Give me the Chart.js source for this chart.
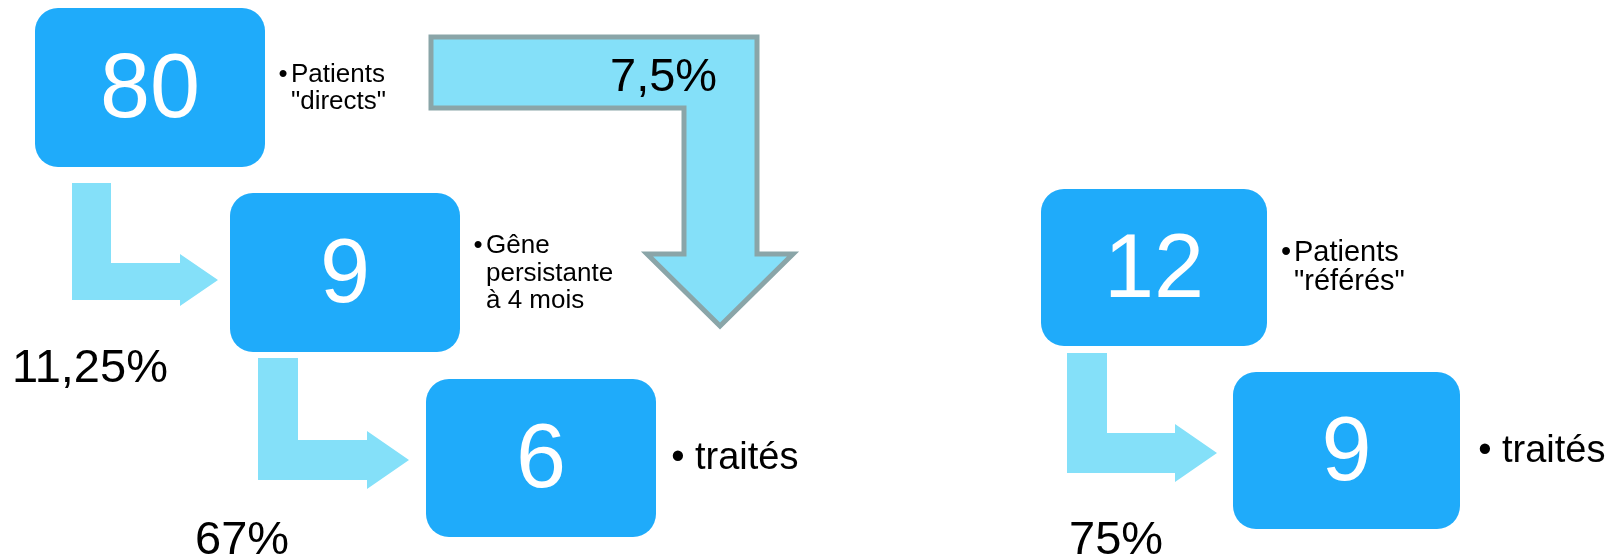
<!DOCTYPE html>
<html>
<head>
<meta charset="utf-8">
<script src="https://cdn.jsdelivr.net/npm/chart.js@4"></script>
<style>
    body { margin: 0; background: #fff; }
    .wrap { width: 1621px; height: 559px; position: relative; }
</style>
</head>
<body>
<div class="wrap"><canvas id="myChart"></canvas></div>
<script>
// values shown in the diagram
const boxValues = ['80', '9', '6', '12', '9'];
const boxNotes = [
    ['Patients', '"directs"'],
    ['Gêne', 'persistante', 'à 4 mois'],
    ['traités'],
    ['Patients', '"référés"'],
    ['traités']
];
const rateLabels = ['7,5%', '11,25%', '67%', '75%'];

// layout, in slide units (x: 0..1621, y: 0..559 top-down)
const boxRects = [[35, 8, 265, 167], [230, 193, 460, 352], [426, 379, 656, 537], [1041, 189, 1267, 346], [1233, 372, 1460, 529]];
const notePos = [[291, 82, 26, 27, 8], [486, 253, 26, 27.5, 8], [695, 469, 38, 0, 17], [1294, 261, 29, 29, 8], [1502, 462, 38, 0, 17]];
const ratePos = [[610, 91], [12, 382], [195, 554], [1069, 554]];
const smallArrows = [
    // stem left, stem right, stem top, bar top, bar bottom, head base x, head top, head bottom, tip x
    [72, 111, 183, 263, 300, 180, 254, 306, 218],
    [258, 298, 358, 440, 480, 367, 431, 489, 409],
    [1067, 1107, 353, 433, 473, 1175, 424, 482, 1217]
];
const bigArrow = [[431, 37], [757, 37], [757, 254], [793, 254], [720, 326], [647, 254], [684, 254], [684, 108], [431, 108]];

const FONT = '"Liberation Sans", Arial, sans-serif';
const BOX_COLOR = '#1fabfa';
const ARROW_COLOR = '#84e0f9';

const centers = boxRects.map(r => ({ x: (r[0] + r[2]) / 2, y: (r[1] + r[3]) / 2 }));

const diagramPlugin = {
    id: 'diagram',
    afterDatasetsDraw(chart) {
        const ctx = chart.ctx;
        const xs = chart.scales.x;
        const ys = chart.scales.y;
        const px = v => xs.getPixelForValue(v);
        const py = v => ys.getPixelForValue(v);

        ctx.save();

        // small L-arrows
        ctx.fillStyle = ARROW_COLOR;
        smallArrows.forEach(a => {
            ctx.beginPath();
            ctx.moveTo(px(a[0]), py(a[2]));
            ctx.lineTo(px(a[1]), py(a[2]));
            ctx.lineTo(px(a[1]), py(a[3]));
            ctx.lineTo(px(a[5]), py(a[3]));
            ctx.lineTo(px(a[5]), py(a[6]));
            ctx.lineTo(px(a[8]), py((a[6] + a[7]) / 2));
            ctx.lineTo(px(a[5]), py(a[7]));
            ctx.lineTo(px(a[5]), py(a[4]));
            ctx.lineTo(px(a[0]), py(a[4]));
            ctx.closePath();
            ctx.fill();
        });

        // big bent arrow
        ctx.beginPath();
        bigArrow.forEach((p, i) => {
            if (i === 0) ctx.moveTo(px(p[0]), py(p[1]));
            else ctx.lineTo(px(p[0]), py(p[1]));
        });
        ctx.closePath();
        ctx.fillStyle = ARROW_COLOR;
        ctx.fill();
        ctx.lineWidth = 5;
        ctx.lineJoin = 'miter';
        ctx.strokeStyle = '#8aa5a8';
        ctx.stroke();

        // boxes
        const meta = chart.getDatasetMeta(0);
        boxRects.forEach((r, i) => {
            const x0 = px(r[0]), x1 = px(r[2]);
            const y0 = py(r[1]), y1 = py(r[3]);
            ctx.beginPath();
            ctx.roundRect(x0, y0, x1 - x0, y1 - y0, 23);
            ctx.fillStyle = BOX_COLOR;
            ctx.fill();

            const pt = meta.data[i];
            ctx.fillStyle = '#fff';
            ctx.font = '90px ' + FONT;
            ctx.textAlign = 'center';
            ctx.textBaseline = 'alphabetic';
            ctx.fillText(boxValues[i], pt.x, pt.y + 29);

            // bullet notes
            const n = notePos[i];
            ctx.fillStyle = '#000';
            ctx.font = n[2] + 'px ' + FONT;
            ctx.textAlign = 'center';
            ctx.fillText('•', px(n[0] - n[4]), py(n[1]));
            ctx.textAlign = 'left';
            boxNotes[i].forEach((line, j) => {
                ctx.fillText(line, px(n[0]), py(n[1] + j * n[3]));
            });
        });

        // rates
        ctx.fillStyle = '#000';
        ctx.font = '47px ' + FONT;
        ctx.textAlign = 'left';
        rateLabels.forEach((t, i) => {
            ctx.fillText(t, px(ratePos[i][0]), py(ratePos[i][1]));
        });

        ctx.restore();
    }
};

const config = {
    type: 'scatter',
    data: {
        datasets: [{
            label: 'boxes',
            data: centers,
            pointRadius: 0,
            pointHoverRadius: 0
        }]
    },
    options: {
        responsive: true,
        maintainAspectRatio: false,
        animation: false,
        layout: { padding: 0 },
        plugins: {
            legend: { display: false },
            tooltip: { enabled: false }
        },
        scales: {
            x: { type: 'linear', min: 0, max: 1621, display: false },
            y: { type: 'linear', min: 0, max: 559, reverse: true, display: false }
        }
    },
    plugins: [diagramPlugin]
};

let myChart = new Chart(document.getElementById('myChart'), config);
</script>
</body>
</html>
